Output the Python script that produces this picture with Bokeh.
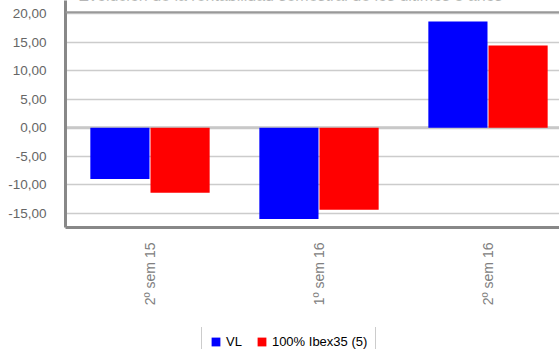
from bokeh.plotting import figure
from bokeh.layouts import column
from bokeh.models import Range1d, FixedTicker, Span, Label, Legend, LegendItem
from bokeh.embed import file_html
from bokeh.resources import INLINE
import math

# Semester return data (%)
periods = ["2º sem 15", "1º sem 16", "2º sem 16"]
vl = [-9.0, -16.0, 18.6]
ibex = [-11.4, -14.4, 14.4]
y_ticks = [-15, -10, -5, 0, 5, 10, 15, 20]
series_names = ["VL", "100% Ibex35 (5)"]
colors = ["#0000ff", "#ff0000"]
title_text = "Evolución de la rentabilidad semestral de los últimos 3 años"

FONT = "Liberation Sans"

# main chart; the frame runs up to the top edge so the heading sits inside it
p = figure(width=559, height=327, output_backend="svg", toolbar_location=None,
           x_range=Range1d(0, 494 / 169), y_range=Range1d(-17.5, 22.28),
           min_border_left=65, min_border_right=0, min_border_top=0,
           min_border_bottom=100)
p.outline_line_color = None
p.background_fill_color = "white"
p.border_fill_color = "white"

centers = [i + 0.5 for i in range(len(periods))]
x_vl = [c - 0.178 for c in centers]
x_ibex = [c + 0.178 for c in centers]

p.vbar(x=x_vl, top=vl, bottom=0, width=0.35, fill_color=colors[0], line_color=None)
p.vbar(x=x_ibex, top=ibex, bottom=0, width=0.35, fill_color=colors[1], line_color=None)

# grid
p.xgrid.grid_line_color = None
p.ygrid.grid_line_color = "#cccccc"
p.ygrid.grid_line_width = 1.5
p.ygrid.ticker = FixedTicker(ticks=y_ticks)

p.add_layout(Span(location=0, dimension="width", line_color="#c8c8c8",
                  line_width=3, level="underlay"))
p.add_layout(Span(location=20.2, dimension="width", line_color="#999999",
                  line_width=2))

# y axis
p.yaxis.ticker = FixedTicker(ticks=y_ticks)
p.yaxis.major_label_overrides = {t: f"{t:.2f}".replace(".", ",") for t in y_ticks}
p.yaxis.axis_line_color = "#888888"
p.yaxis.axis_line_width = 3
p.yaxis.major_tick_line_color = None
p.yaxis.minor_tick_line_color = None
p.yaxis.major_label_text_font = FONT
p.yaxis.major_label_text_font_size = "13.5px"
p.yaxis.major_label_text_color = "#666666"
p.yaxis.major_label_standoff = 13

# x axis
p.xaxis.ticker = FixedTicker(ticks=centers)
p.xaxis.major_label_overrides = {c: lab for c, lab in zip(centers, periods)}
p.xaxis.major_label_orientation = math.pi / 2
p.xaxis.axis_line_color = "#888888"
p.xaxis.axis_line_width = 3
p.xaxis.major_tick_line_color = None
p.xaxis.minor_tick_line_color = None
p.xaxis.major_label_text_font = FONT
p.xaxis.major_label_text_font_size = "14px"
p.xaxis.major_label_text_color = "#808080"
p.xaxis.major_label_standoff = 9

# heading, only its lower edge falls inside the canvas
p.add_layout(Label(x=1.331, y=23.15, text=title_text,
                   text_align="center", text_baseline="alphabetic",
                   text_font=FONT, text_font_size="16px", text_color="#777777"))

# legend strip below the chart (its bars sit outside the visible range)
lg = figure(width=559, height=22, output_backend="svg", toolbar_location=None,
            x_axis_type=None, y_axis_type=None,
            x_range=Range1d(0, 494 / 169), y_range=Range1d(100, 101),
            min_border_left=65, min_border_right=0, min_border_top=0,
            min_border_bottom=0)
lg.outline_line_color = None
lg.grid.visible = False
lg.background_fill_color = "white"
r_vl = lg.vbar(x=x_vl, top=vl, bottom=0, width=0.35, fill_color=colors[0], line_color=None)
r_ibex = lg.vbar(x=x_ibex, top=ibex, bottom=0, width=0.35, fill_color=colors[1], line_color=None)

legend = Legend(items=[LegendItem(label=series_names[0], renderers=[r_vl]),
                       LegendItem(label=series_names[1], renderers=[r_ibex])],
                orientation="horizontal", location=(136, -9),
                label_text_font=FONT, label_text_font_size="13px",
                label_text_color="#000000", glyph_width=11, glyph_height=11,
                label_height=11, label_width=10,
                label_standoff=5, spacing=14, padding=8, margin=0,
                border_line_color="#999999", border_line_width=1,
                background_fill_alpha=1.0)
lg.add_layout(legend)

layout = column(p, lg, spacing=0)
open("out.html", "w").write(file_html(layout, INLINE))
